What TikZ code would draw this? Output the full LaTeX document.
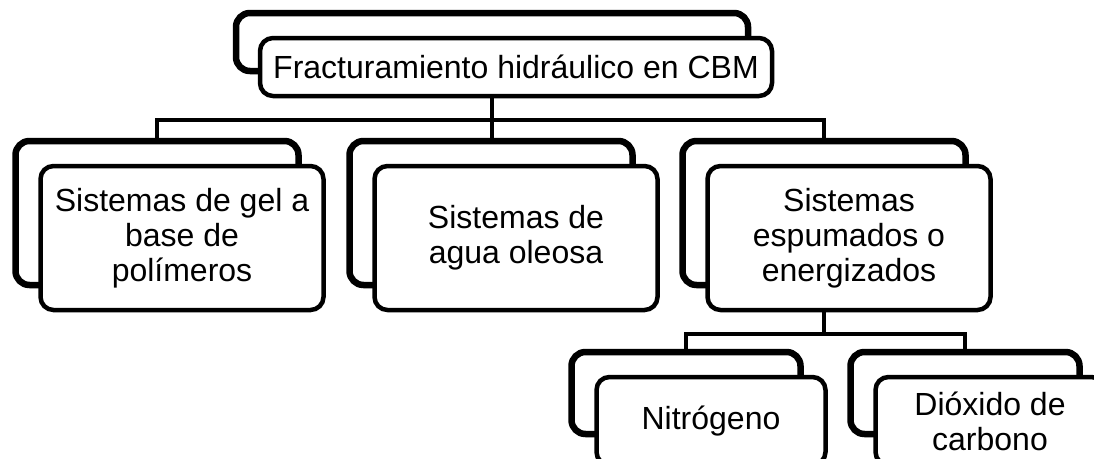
\documentclass[tikz,border=0pt]{standalone}
\usepackage{fontspec}
\setmainfont{Liberation Sans}
\usetikzlibrary{shadows}
\tikzset{
  backbox/.style={draw, rounded corners=14pt, line width=6.5pt, fill=white, drop shadow={shadow xshift=-2pt, shadow yshift=-3pt, opacity=0.2}},
  frontbox/.style={draw, rounded corners=13pt, line width=4.5pt, fill=white, align=center, font=\fontsize{32}{35}\selectfont},
  toplevel/.style={minimum width=512pt, minimum height=58pt},
  midlevel/.style={minimum width=283pt, minimum height=144pt},
  lowlevel/.style={minimum width=229pt, minimum height=82pt},
  linkline/.style={line width=4.5pt}
}

\begin{document}
\begin{tikzpicture}[x=1pt, y=-1pt]
  \useasboundingbox (0,0) rectangle (1094,458);
  \clip (0,0) rectangle (1094,458);
  % back boxes
  \node[backbox, toplevel] (topback) at (492,42) {};
  \node[backbox, midlevel] (gelback) at (157,213) {};
  \node[backbox, midlevel] (aguaback) at (491,213) {};
  \node[backbox, midlevel] (espback) at (824,213) {};
  \node[backbox, lowlevel] (nitback) at (686,393) {};
  \node[backbox, lowlevel] (co2back) at (965,393) {};
  % connectors
  \coordinate (bus) at (0,120);
  \coordinate (lowbus) at (0,334);
  \draw[linkline] (gelback.north) |- (topback.south |- bus) -| (espback.north);
  \draw[linkline] (topback.south) -- (topback.south |- aguaback.north);
  \draw[linkline] (nitback.north) |- (espback.south |- lowbus) -| (co2back.north);
  \draw[linkline] (espback.south) -- (espback.south |- lowbus);
  % front boxes
  \node[frontbox, toplevel] (top) at ([shift={(24,25)}]topback) {Fracturamiento hidráulico en CBM};
  \node[frontbox, midlevel] (gel) at ([shift={(25,25)}]gelback) {Sistemas de gel a\\base de\\polímeros};
  \node[frontbox, midlevel] (agua) at ([shift={(25,25)}]aguaback) {Sistemas de\\agua oleosa};
  \node[frontbox, midlevel] (esp) at ([shift={(25,25)}]espback) {Sistemas\\espumados o\\energizados};
  \node[frontbox, lowlevel, minimum height=88pt] (nit) at ([shift={(25,28)}]nitback) {Nitrógeno};
  \node[frontbox, lowlevel, minimum height=88pt] (co2) at ([shift={(25,28)}]co2back) {Dióxido de\\carbono};
\end{tikzpicture}
\end{document}
